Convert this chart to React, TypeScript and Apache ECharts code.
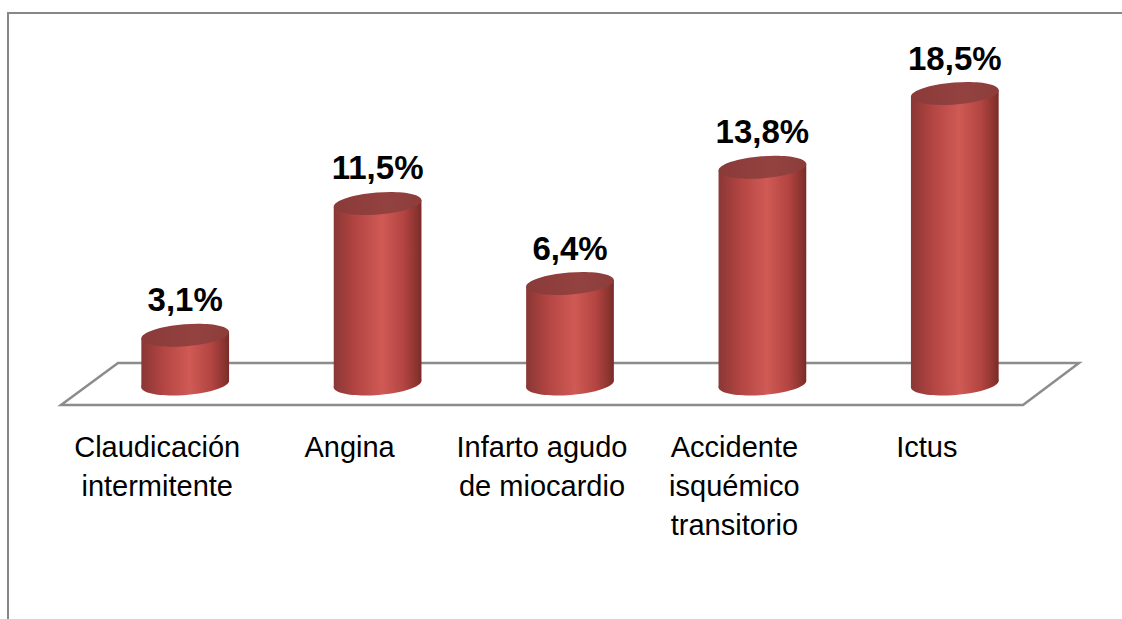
import React, { useEffect, useRef } from "react";
import * as echarts from "echarts";

const categories = [
  "Claudicación\nintermitente",
  "Angina",
  "Infarto agudo\nde miocardio",
  "Accidente\nisquémico\ntransitorio",
  "Ictus",
];
const values = [3.1, 11.5, 6.4, 13.8, 18.5];

const formatPct = (v: number) => v.toFixed(1).replace(".", ",") + "%";

const DEPTH_DX = 28;
const DEPTH_DY = -21;
const RX = 44;
const RY = 11;
const TILT = 0.08;

const bodyGradient = () =>
  new echarts.graphic.LinearGradient(0, 0, 1, 0, [
    { offset: 0, color: "#8A3735" },
    { offset: 0.25, color: "#B34542" },
    { offset: 0.55, color: "#D05A55" },
    { offset: 0.8, color: "#B24441" },
    { offset: 0.95, color: "#89332F" },
    { offset: 1, color: "#7A2A28" },
  ]);

export default function App() {
  const ref = useRef<HTMLDivElement>(null);
  useEffect(() => {
    if (!ref.current) return;
    const chart = echarts.init(ref.current, undefined, { renderer: "svg" });
    const cosT = Math.cos(TILT);
    const sinT = Math.sin(TILT);
    chart.setOption({
      animation: false,
      backgroundColor: "#ffffff",
      grid: { left: 61, right: 99, top: 91, bottom: 214, containLabel: false },
      xAxis: {
        type: "category",
        data: categories,
        axisLine: { show: false },
        axisTick: { show: false },
        splitLine: { show: false },
        axisLabel: {
          interval: 0,
          margin: 22,
          fontSize: 29,
          lineHeight: 39,
          color: "#000000",
          fontFamily: "Liberation Sans",
        },
      },
      yAxis: { type: "value", min: 0, max: 20, show: false, splitLine: { show: false } },
      graphic: [
        {
          type: "polyline",
          shape: { points: [[8, 619], [8, 13], [1122, 13]] },
          style: { stroke: "#878787", lineWidth: 2, fill: null },
          z: 0,
        },
        {
          type: "polygon",
          shape: { points: [[61, 405], [1023, 405], [1079, 363], [118, 363]] },
          style: { stroke: "#8C8C8C", lineWidth: 2.5, fill: "#ffffff" },
          z: -1,
        },
      ],
      series: [
        {
          type: "custom",
          data: values.map((v, i) => [i, v]),
          z: 5,
          renderItem: (params: any, api: any) => {
            const idx = api.value(0);
            const v = api.value(1);
            const top = api.coord([idx, v]);
            const base = api.coord([idx, 0]);
            const cx = top[0] + DEPTH_DX;
            const ty = top[1] + DEPTH_DY;
            const by = base[1] + DEPTH_DY;
            const dx = RX * cosT;
            const dy = RX * sinT;
            return {
              type: "group",
              children: [
                {
                  type: "ellipse",
                  x: cx,
                  y: by,
                  rotation: TILT,
                  shape: { cx: 0, cy: 0, rx: RX, ry: RY },
                  style: { fill: bodyGradient() },
                },
                {
                  type: "polygon",
                  shape: {
                    points: [
                      [cx - dx, ty + dy],
                      [cx + dx, ty - dy],
                      [cx + dx, by - dy],
                      [cx - dx, by + dy],
                    ],
                  },
                  style: { fill: bodyGradient() },
                },
                {
                  type: "ellipse",
                  x: cx,
                  y: ty,
                  rotation: TILT,
                  shape: { cx: 0, cy: 0, rx: RX, ry: RY },
                  style: {
                    fill: new echarts.graphic.LinearGradient(0, 0, 1, 0, [
                      { offset: 0, color: "#8A3A38" },
                      { offset: 0.6, color: "#934240" },
                      { offset: 1, color: "#8C3D3A" },
                    ]),
                  },
                },
                {
                  type: "text",
                  x: cx,
                  y: ty - RY - 8,
                  style: {
                    text: formatPct(v),
                    fill: "#000000",
                    fontSize: 33,
                    fontWeight: "bold",
                    fontFamily: "Liberation Sans",
                    align: "center",
                    verticalAlign: "bottom",
                  },
                },
              ],
            };
          },
        },
      ],
    });
    return () => chart.dispose();
  }, []);
  return (
    <div
      ref={ref}
      style={{ position: "fixed", left: 0, top: 0, width: 1122, height: 619 }}
    />
  );
}
